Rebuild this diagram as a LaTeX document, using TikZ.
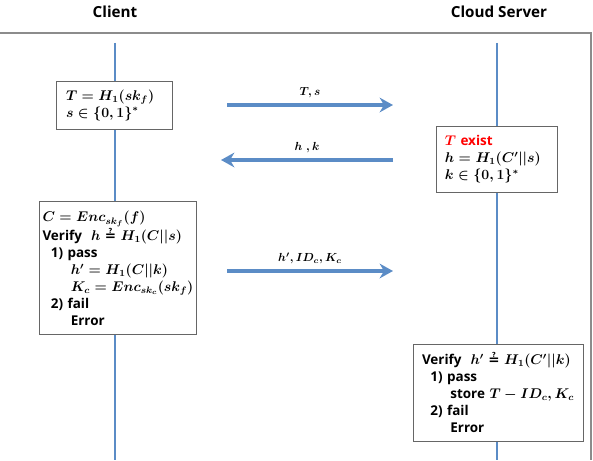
\documentclass[tikz,border=0pt]{standalone}
\usepackage{amsmath}
\usepackage{amssymb}
\usepackage{fontspec}
\setsansfont{Open Sans}
\newfontfamily\qsymfont{DejaVu Sans}
\usetikzlibrary{positioning,arrows.meta}
\definecolor{lineblue}{HTML}{5B8CC6}
\definecolor{framegray}{HTML}{8C8C8C}
\newcommand{\qeq}{\mathrel{\text{\qsymfont ≟}}}
\tikzset{
  life/.style    = {draw=lineblue, line width=2pt},
  msg/.style     = {draw=lineblue, line width=2.6pt,
                    -{Stealth[length=4mm,width=4.4mm,inset=1.3mm]}},
  stepbox/.style = {draw=black!60, line width=0.8pt, fill=white, align=left,
                    font=\fontsize{11.5}{14.5}\selectfont\sffamily\bfseries\boldmath,
                    inner ysep=2pt},
  head/.style    = {font=\fontsize{13}{15}\selectfont\sffamily\bfseries},
  mlbl/.style    = {font=\fontsize{10}{12}\selectfont\boldmath, inner sep=2pt, above=3pt},
}

\begin{document}
\begin{tikzpicture}

\useasboundingbox (0,0) rectangle (17.79,-13.8);

% ===== headers and frame =====
\node[head] (client) at (3.45,-0.36) {Client};
\node[head] (server) at (14.97,-0.36) {Cloud Server};
\draw[framegray, line width=1pt] (0,-0.99) -- (17.73,-0.99) -- (17.73,-13.8);

% ===== lifelines =====
\coordinate (cltop) at (3.45,-1.29);
\coordinate (clbot) at (3.45,-13.8);
\coordinate (svtop) at (14.91,-1.29);
\coordinate (svbot) at (14.91,-13.8);
\draw[life] (cltop) -- (clbot);
\draw[life] (svtop) -- (svbot);

% ===== client side =====
\node[stepbox, text width=2.88cm, inner xsep=0.3cm, minimum height=1.44cm] (reg) at (3.42,-3.15)
     {$T = H_1(sk_f)$\\$s \in \{0,1\}^*$};
\node[stepbox, text width=4.55cm, inner xsep=0.08cm, minimum height=3.99cm] (enc) at (3.55,-8.05)
     {$C = Enc_{sk_f}(f)$\\
      Verify~ $h \qeq H_1(C||s)$\\
      \hspace*{0.25cm}1) pass\\
      \hspace*{0.85cm}$h' = H_1(C||k)$\\
      \hspace*{0.85cm}$K_c = Enc_{sk_c}(sk_f)$\\
      \hspace*{0.25cm}2) fail\\
      \hspace*{0.85cm}Error};

% ===== server side =====
\node[stepbox, text width=3.15cm, inner xsep=0.24cm, minimum height=1.98cm] (chk) at (14.92,-4.77)
     {\textcolor{red}{$T$ exist}\\$h = H_1(C'||s)$\\$k \in \{0,1\}^*$};
\node[stepbox, text width=4.56cm, inner xsep=0.27cm, minimum height=2.91cm] (store) at (14.94,-11.78)
     {Verify~ $h' \qeq H_1(C'||k)$\\
      \hspace*{0.25cm}1) pass\\
      \hspace*{0.85cm}store $T - ID_c, K_c$\\
      \hspace*{0.25cm}2) fail\\
      \hspace*{0.85cm}Error};

% ===== messages =====
\coordinate (m1a) at (6.81,-3.15);
\coordinate (m1b) at (11.79,-3.15);
\coordinate (m2a) at (11.79,-4.80);
\coordinate (m2b) at (6.63,-4.80);
\coordinate (m3a) at (6.81,-8.13);
\coordinate (m3b) at (11.79,-8.13);
\draw[msg] (m1a) -- (m1b) node[midway, mlbl] {$T, s$};
\draw[msg] (m2a) -- (m2b) node[midway, mlbl] {$h~, k$};
\draw[msg] (m3a) -- (m3b) node[midway, mlbl] {$h', ID_c, K_c$};
\end{tikzpicture}
\end{document}
